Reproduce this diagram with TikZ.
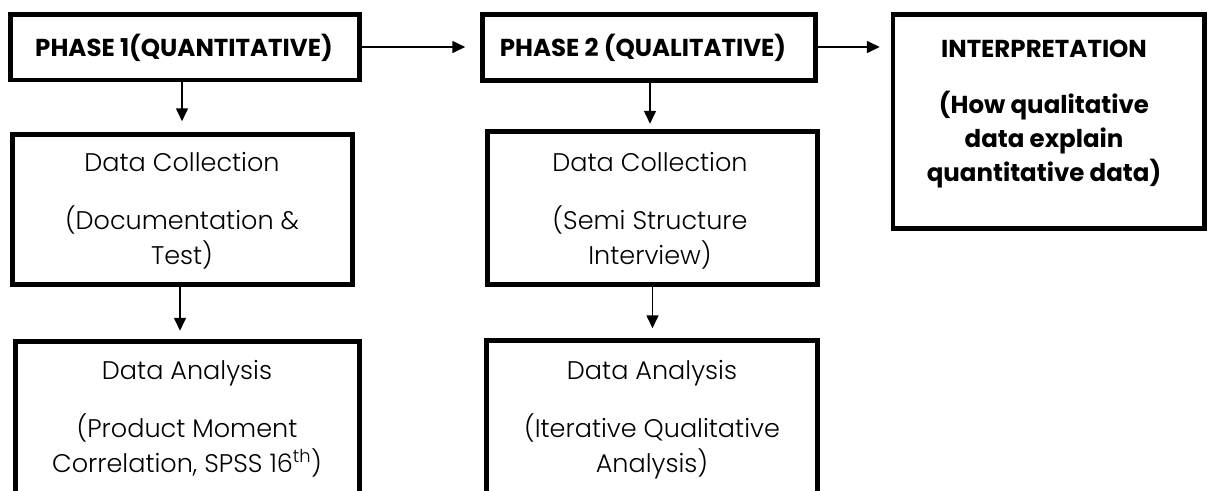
\documentclass[tikz,border=0pt]{standalone}
\usepackage{fontspec}
\setmainfont{Poppins}
\newfontfamily\lightfont{Poppins Light}
\usetikzlibrary{arrows.meta}
\begin{document}
\begin{tikzpicture}[x=1pt,y=-1pt,
  box/.style={draw, line width=4.5pt, inner sep=0pt},
  arr/.style={line width=1.6pt, -{Triangle[length=13pt,width=12pt]}},
  body/.style={font=\lightfont\fontsize{25.5}{30}\selectfont, anchor=base, inner sep=0pt},
  head/.style={font=\bfseries\fontsize{24.5}{28}\selectfont, anchor=base, inner sep=0pt}]
\useasboundingbox (0,0) rectangle (1212,490);
\clip (0,0) rectangle (1212,490);
% boxes
\node[box, minimum width=349pt, minimum height=65.5pt] (p1) at (185,47.25) {};
\node[box, minimum width=333pt, minimum height=66pt] (p2) at (649,47.5) {};
\node[box, minimum width=311.5pt, minimum height=214pt] (ip) at (1048.75,121.5) {};
\node[box, minimum width=340pt, minimum height=150pt] (dc1) at (182.5,209.5) {};
\node[box, minimum width=344pt, minimum height=170pt] (da1) at (187.5,426.5) {};
\node[box, minimum width=330pt, minimum height=153pt] (dc2) at (652.5,208) {};
\node[box, minimum width=331pt, minimum height=170pt] (da2) at (652,425.5) {};
% texts
\node[head] (p1t) at (184,56) {PHASE 1(QUANTITATIVE)};
\node[head] (p2t) at (643,56) {PHASE 2 (QUALITATIVE)};
\node[head] (ipa) at (1044,57) {INTERPRETATION};
\node[head] (ipb) at (1044,113) {(How qualitative};
\node[head] (ipc) at (1044,147) {data explain};
\node[head] (ipd) at (1044,181) {quantitative data)};
\node[body] (dc1a) at (182,171) {Data Collection};
\node[body] (dc1b) at (182,229) {(Documentation \&};
\node[body] (dc1c) at (182,264) {Test)};
\node[body] (dc2a) at (650,171) {Data Collection};
\node[body] (dc2b) at (650,229) {(Semi Structure};
\node[body] (dc2c) at (650,264) {Interview)};
\node[body] (da1a) at (187,379) {Data Analysis};
\node[body] (da1b) at (187,437) {(Product Moment};
\node[body] (da1c) at (187,472) {Correlation, SPSS 16\textsuperscript{th})};
\node[body] (da2a) at (652,379) {Data Analysis};
\node[body] (da2b) at (652,437) {(Iterative Qualitative};
\node[body] (da2c) at (652,472) {Analysis)};
% connectors
\coordinate (x1) at (182,0);
\coordinate (x2) at (180,0);
\coordinate (x3) at (650,0);
\coordinate (x4) at (652.5,0);
\coordinate (ya) at (0,47);
\draw[arr, shorten >=15pt] (p1.east |- ya) -- (p2.west |- ya);
\draw[arr, shorten >=11pt] (p2.east |- ya) -- (ip.west |- ya);
\draw[arr, shorten >=11pt] (p1.south -| x1) -- (dc1.north -| x1);
\draw[arr, shorten >=8.5pt] (dc1.south -| x2) -- (da1.north -| x2);
\draw[arr, shorten >=5.5pt] (p2.south -| x3) -- (dc2.north -| x3);
\draw[arr, shorten >=10pt] (dc2.south -| x4) -- (da2.north -| x4);
\end{tikzpicture}
\end{document}
